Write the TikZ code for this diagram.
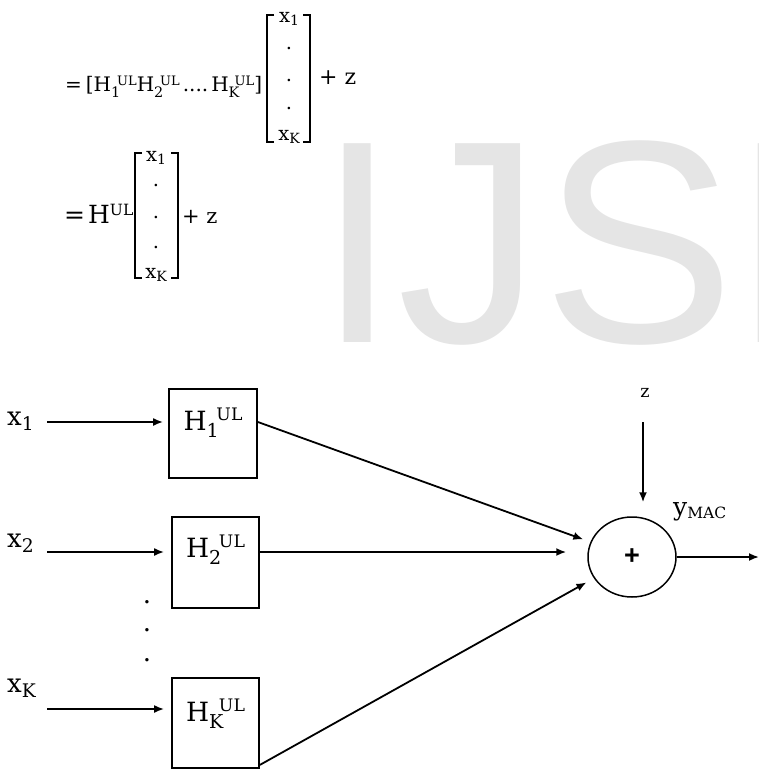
\documentclass[tikz,border=0pt]{standalone}
\usepackage{fontspec}
\setmainfont{DejaVu Serif}
\newfontfamily\wmfont{Liberation Sans}
\usetikzlibrary{calc,arrows.meta,shapes.geometric}

% sub- and superscripts in text mode
\newcommand{\dnsc}[1]{\raisebox{-0.2em}{\scalebox{0.72}{#1}}}
% H with subscript #1, superscript UL shifted right by #2 and raised by #3
\newcommand{\Hsc}[3]{H\rlap{\raisebox{-0.3em}{\scalebox{0.72}{#1}}}\hspace{#2}\raisebox{#3}{\scalebox{0.65}{UL}}}
\newcommand{\xv}[1]{x\dnsc{#1}}

\tikzset{
  eqsmall/.style={inner sep=0pt, font=\fontsize{19.5}{23}\selectfont},
  eqmain/.style={inner sep=0pt, anchor=base west, font=\fontsize{20}{24}\selectfont},
  brack/.style={line width=1.2pt},
  lbl/.style={inner sep=0pt, anchor=base west, font=\fontsize{26}{30}\selectfont},
  hbox/.style={draw, line width=1.8pt, minimum width=88pt, inner sep=0pt,
    font=\fontsize{26.5}{30}\selectfont},
  dotnode/.style={inner sep=0pt, anchor=base, font=\fontsize{26}{30}\selectfont},
  sumnode/.style={draw, ellipse, line width=1.5pt, minimum width=88pt,
    minimum height=80pt, inner sep=0pt, font=\wmfont\bfseries\fontsize{27}{30}\selectfont},
  arr/.style={line width=1.8pt, -{Latex[length=10pt,width=8pt]}}
}

\begin{document}
\begin{tikzpicture}[x=1pt,y=-1pt]
        \useasboundingbox (0,0) rectangle (759,772);
        % watermark
        \begin{scope}
          \clip (0,0) rectangle (759,772);
          \node[anchor=base west, inner sep=0pt, text=black!10,
            font=\wmfont\fontsize{289}{300}\selectfont] (wm) at (317,342) {IJSER};
        \end{scope}

        % first line
        \node[eqmain] (eqa) at (65,91) {=\hspace{0.2em}[\Hsc{1}{0.3em}{0.3em}\Hsc{2}{0.3em}{0.3em}\hspace{0.15em}....\hspace{0.15em}\Hsc{K}{0.3em}{0.3em}]};
        \draw[brack] (274,15) -| (267,142) -- (274,142);
        \draw[brack] (303,15) -| (310,142) -- (303,142);
        \node[eqsmall, anchor=base] (ma1) at (289,22) {\xv{1}};
        \foreach \y/\n in {49/mad1, 81/mad2, 109/mad3}
          \node[eqsmall, anchor=base] (\n) at (289,\y) {.};
        \node[eqsmall, anchor=base] (maK) at (289,140) {\xv{K}};
        \node[eqmain, font=\fontsize{22}{26}\selectfont] (pza) at (319,84) {+ z};

        % second line
        \node[eqmain, font=\fontsize{25}{30}\selectfont] (eqb) at (64,223) {=\hspace{0.12em}H\raisebox{0.3em}{\scalebox{0.62}{UL}}};
        \draw[brack] (142,153) -| (135,278) -- (142,278);
        \draw[brack] (171,153) -| (178,278) -- (171,278);
        \node[eqsmall, anchor=base] (mb1) at (156,161) {\xv{1}};
        \foreach \y/\n in {186/mbd1, 218/mbd2, 248/mbd3}
          \node[eqsmall, anchor=base] (\n) at (156,\y) {.};
        \node[eqsmall, anchor=base] (mbK) at (156,278) {\xv{K}};
        \node[eqmain, font=\fontsize{21}{25}\selectfont] (pzb) at (182,223) {+ z};

        % block diagram
        \node[lbl] (x1) at (7,425) {\xv{1}};
        \node[lbl] (x2) at (7,547) {\xv{2}};
        \node[lbl] (xK) at (7,692) {\xv{K}};
        \coordinate (in1) at (47,422);
        \coordinate (in2) at (47,552);
        \coordinate (inK) at (47,709);

        \node[hbox, text height=41pt, text depth=48pt] (h1) at (213,433.5) {\Hsc{1}{0.37em}{0.37em}};
        \node[hbox, minimum width=87pt, text height=40pt, text depth=51pt] (h2) at (215.5,562.5) {\Hsc{2}{0.37em}{0.37em}};
        \node[hbox, minimum width=87pt, text height=43pt, text depth=47pt] (hK) at (215.5,723) {\Hsc{K}{0.37em}{0.37em}};

        \foreach \y/\n in {603/d1, 631/d2, 661/d3}
          \node[dotnode] (\n) at (147,\y) {.};

        \node[sumnode] (sum) at (632,557) {\raisebox{-4pt}{+}};
        \node[inner sep=0pt, anchor=base, font=\fontsize{17.5}{21}\selectfont] (zlab) at (645,397) {z};
        \node[inner sep=0pt, anchor=base west, font=\fontsize{25}{29}\selectfont] (ymac) at (673,515) {y\raisebox{-0.12em}{\scalebox{0.62}{MAC}}};
        \coordinate (ztail) at (643,422);
        \coordinate (yout) at (759,557);

        \draw[arr, shorten >=5pt] (in1) -- (in1 -| h1.west);
        \draw[arr, shorten >=7pt] (in2) -- (in2 -| h2.west);
        \draw[arr, shorten >=7pt] (inK) -- (inK -| hK.west);

        \draw[arr, shorten >=7.5pt] ([yshift=11.5pt]h1.east) -- (sum);
        \draw[arr, shorten >=21pt] ([yshift=10.5pt]h2.east) coordinate (o2) -- (o2 -| sum.west);
        \draw[arr, shorten >=8.5pt] ([yshift=4pt]hK.south east) -- (sum);
        \draw[arr, shorten >=14pt] (ztail) -- (ztail |- sum.north);
        \draw[arr] (sum.east) -- (yout);
    \end{tikzpicture}
\end{document}
